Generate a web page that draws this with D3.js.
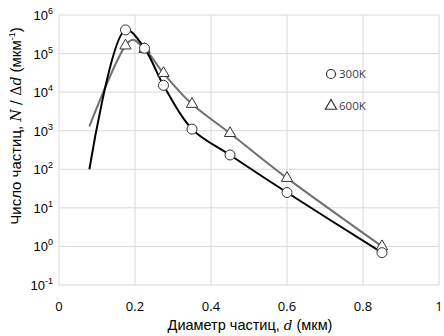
<!DOCTYPE html>
<html><head><meta charset="utf-8">
<script src="https://cdn.jsdelivr.net/npm/d3@7"></script>
<style>body{margin:0;background:#fff}svg{display:block}</style>
</head><body>
<svg id="c" width="444" height="336"></svg>
<script>
const xTicks = [0, 0.2, 0.4, 0.6, 0.8, 1];
const xTickLabels = ["0", "0.2", "0.4", "0.6", "0.8", "1"];
const yExps = [-1, 0, 1, 2, 3, 4, 5, 6];
// 300K
const d300 = [0.08, 0.175, 0.225, 0.275, 0.35, 0.45, 0.6, 0.85];
const v300 = [100, 410000, 137000, 15000, 1100, 235, 25, 0.69];
const m300 = [false, true, true, true, true, true, true, true];
// 600K
const d600 = [0.08, 0.175, 0.225, 0.275, 0.35, 0.45, 0.6, 0.85];
const v600 = [1300, 160000, 130000, 31000, 4900, 860, 59, 1.0];
const m600 = [false, true, true, true, true, true, true, true];
const legendLabels = ["300K", "600K"];

const svg = d3.select("#c");
const L = 59, R = 439, T = 15, B = 285;
const x = d3.scaleLinear().domain([0, 1]).range([L, R]);
const y = d3.scaleLog().domain([0.1, 1e6]).range([B, T]);

// grid
svg.append("g").selectAll("line").data(yExps).join("line")
  .attr("x1", L).attr("x2", R)
  .attr("y1", e => y(Math.pow(10, e))).attr("y2", e => y(Math.pow(10, e)))
  .attr("stroke", "#d9d9d9").attr("stroke-width", 1);
svg.append("g").selectAll("line").data(xTicks).join("line")
  .attr("x1", d => x(d)).attr("x2", d => x(d))
  .attr("y1", T).attr("y2", B)
  .attr("stroke", "#d9d9d9").attr("stroke-width", 1);

// y tick labels
const yl = svg.append("g").selectAll("text").data(yExps).join("text")
  .attr("x", L - 6).attr("y", e => y(Math.pow(10, e)) + 5)
  .attr("text-anchor", "end")
  .attr("font-family", "Liberation Sans, Arial, sans-serif")
  .attr("font-size", 13).attr("fill", "#000");
yl.append("tspan").text("10");
yl.append("tspan").attr("dy", -6).attr("font-size", 9).text(e => String(e));

// x tick labels
svg.append("g").selectAll("text").data(xTicks).join("text")
  .attr("x", d => x(d)).attr("y", 311)
  .attr("text-anchor", "middle")
  .attr("font-family", "Open Sans, sans-serif")
  .attr("font-size", 13).attr("fill", "#000")
  .text((d, i) => xTickLabels[i]);

// axis titles
const xt = svg.append("text").attr("x", 250).attr("y", 330).attr("text-anchor", "middle")
  .attr("font-family", "Liberation Sans, Arial, sans-serif").attr("font-size", 14.5).attr("fill", "#000");
xt.append("tspan").text("Диаметр частиц, ");
xt.append("tspan").attr("font-family", "DejaVu Serif, serif").attr("font-style", "italic").attr("font-size", 13.5).text("d");
xt.append("tspan").text(" (мкм)");

const yt = svg.append("text").attr("transform", "translate(21,126) rotate(-90)").attr("text-anchor", "middle")
  .attr("font-family", "Liberation Sans, Arial, sans-serif").attr("font-size", 15).attr("fill", "#000");
yt.append("tspan").text("Число частиц, ");
yt.append("tspan").attr("font-family", "DejaVu Serif, serif").attr("font-style", "italic").attr("font-size", 14).text("N");
yt.append("tspan").attr("font-family", "DejaVu Serif, serif").attr("font-size", 14).text(" / Δ");
yt.append("tspan").attr("font-family", "DejaVu Serif, serif").attr("font-style", "italic").attr("font-size", 14).text("d");
yt.append("tspan").text(" (мкм");
yt.append("tspan").attr("dy", -6).attr("font-size", 9).text("-1");
yt.append("tspan").attr("dy", 6).text(")");

// lines
const line300 = d3.line().x(d => x(d[0])).y(d => y(d[1])).curve(d3.curveCatmullRom.alpha(0.5));
const line600 = d3.line().x(d => x(d[0])).y(d => y(d[1])).curve(d3.curveCatmullRom.alpha(0));
const s600 = d600.map((d, i) => [d, v600[i], m600[i]]);
const s300 = d300.map((d, i) => [d, v300[i], m300[i]]);
svg.append("path").datum(s600).attr("d", line600).attr("fill", "none").attr("stroke", "#707070").attr("stroke-width", 2);
svg.append("path").datum(s300).attr("d", line300).attr("fill", "none").attr("stroke", "#000").attr("stroke-width", 2);

const tri = d3.symbol().type(d3.symbolTriangle).size(55);
svg.append("g").selectAll("path").data(s600.filter(d => d[2])).join("path")
  .attr("d", tri).attr("transform", d => `translate(${x(d[0])},${y(d[1])})`)
  .attr("fill", "#fff").attr("stroke", "#333").attr("stroke-width", 1);
svg.append("g").selectAll("circle").data(s300.filter(d => d[2])).join("circle")
  .attr("cx", d => x(d[0])).attr("cy", d => y(d[1])).attr("r", 5)
  .attr("fill", "#fff").attr("stroke", "#333").attr("stroke-width", 1);

// legend
svg.append("circle").attr("cx", 331).attr("cy", 74).attr("r", 4.5).attr("fill", "#fff").attr("stroke", "#333").attr("stroke-width", 1.2);
svg.append("path").attr("d", tri).attr("transform", "translate(331,106)").attr("fill", "#fff").attr("stroke", "#333").attr("stroke-width", 1.2);
svg.append("g").selectAll("text").data(legendLabels).join("text")
  .attr("x", 339).attr("y", (d, i) => 78 + i * 32)
  .attr("font-family", "Open Sans, sans-serif").attr("font-size", 11.5).attr("fill", "#404040")
  .text(d => d);
</script>
</body></html>
